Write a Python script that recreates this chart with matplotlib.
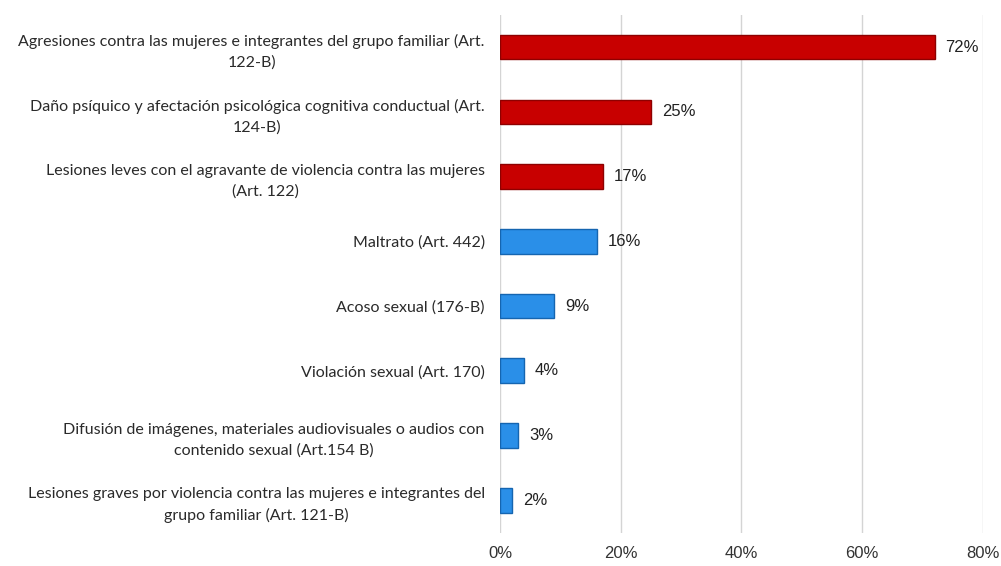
import matplotlib.pyplot as plt
from matplotlib.ticker import PercentFormatter

# Data (top to bottom, as in the reference)
categories = [
    "Agresiones contra las mujeres e integrantes del grupo familiar (Art.\n122-B)",
    "Daño psíquico y afectación psicológica cognitiva conductual (Art.\n124-B)",
    "Lesiones leves con el agravante de violencia contra las mujeres\n(Art. 122)",
    "Maltrato (Art. 442)",
    "Acoso sexual (176-B)",
    "Violación sexual (Art. 170)",
    "Difusión de imágenes, materiales audiovisuales o audios con\ncontenido sexual (Art.154 B)",
    "Lesiones graves por violencia contra las mujeres e integrantes del\ngrupo familiar (Art. 121-B)",
]
values = [72, 25, 17, 16, 9, 4, 3, 2]
highlight = [True, True, True, False, False, False, False, False]

RED = "#C80000"
RED_EDGE = "#8E0000"
BLUE = "#2A8FE8"
BLUE_EDGE = "#1565B0"

fig = plt.figure(figsize=(10.01, 5.66), dpi=100)
ax = fig.add_axes([0.4995, 0.059, 0.4825, 0.915])

ypos = list(range(len(values)))
colors = [RED if h else BLUE for h in highlight]
edges = [RED_EDGE if h else BLUE_EDGE for h in highlight]
ax.barh(ypos, values, height=0.38, color=colors, edgecolor=edges, linewidth=1.0, zorder=3)

# value labels to the right of each bar
for y, v in zip(ypos, values):
    ax.text(v + 1.8, y, f"{v}%", va="center", ha="left", fontsize=12,
            family="Liberation Sans", color="#222222")

ax.set_xlim(0, 80)
ax.set_ylim(len(values) - 0.5, -0.5)
ax.set_xticks([0, 20, 40, 60, 80])
ax.xaxis.set_major_formatter(PercentFormatter(decimals=0))
ax.grid(axis="x", color="#D4D4D4", linewidth=1.0, zorder=0)
for s in ax.spines.values():
    s.set_visible(False)

ax.set_yticks(ypos)
ax.set_yticklabels(categories, fontsize=11.5, family="Lato", color="#2a2a2a")
for lab in ax.get_yticklabels():
    lab.set_multialignment("center")
    lab.set_linespacing(1.55)
ax.tick_params(axis="y", length=0, pad=11)
ax.tick_params(axis="x", length=0, pad=10, labelsize=12, labelcolor="#333333")
for lab in ax.get_xticklabels():
    lab.set_family("Liberation Sans")

fig.savefig("out.png", dpi=100)
